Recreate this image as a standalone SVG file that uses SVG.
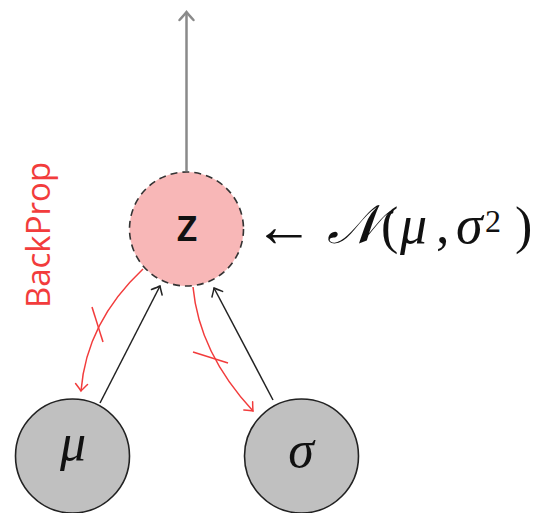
<svg xmlns="http://www.w3.org/2000/svg" width="536" height="513" viewBox="0 0 536 513">
<style>
.blk{fill:none;stroke:#222;stroke-width:1.5}
.red{fill:none;stroke:#f23c3c;stroke-width:1.5}
.gry{fill:none;stroke:#8a8a8a;stroke-width:2.5}
.node{fill:#c0c0c0;stroke:#222;stroke-width:1.6}
.math{font-family:"Liberation Serif","DejaVu Serif",serif;font-style:italic}
.rm{font-style:normal}
</style>
<defs>
<marker id="ab" markerUnits="userSpaceOnUse" markerWidth="16" markerHeight="16" refX="0" refY="0" viewBox="-10 -8 12 16" orient="auto"><path d="M-7,-6 Q-2,-1.5 0,0 Q-2,1.5 -7,6" fill="none" stroke="#222" stroke-width="1.5" stroke-linecap="round"/></marker>
<marker id="ar" markerUnits="userSpaceOnUse" markerWidth="16" markerHeight="16" refX="0" refY="0" viewBox="-10 -8 12 16" orient="auto"><path d="M-7,-6 Q-2,-1.5 0,0 Q-2,1.5 -7,6" fill="none" stroke="#f23c3c" stroke-width="1.5" stroke-linecap="round"/></marker>
<marker id="ag" markerUnits="userSpaceOnUse" markerWidth="20" markerHeight="20" refX="0" refY="0" viewBox="-12 -10 14 20" orient="auto"><path d="M-8,-7 Q-2,-1.5 0,0 Q-2,1.5 -8,7" fill="none" stroke="#8a8a8a" stroke-width="2.5" stroke-linecap="round"/></marker>
</defs>
<g id="connectors">
<path class="gry" d="M186.5,171 L186.5,12" marker-end="url(#ag)"/>
<path class="blk" d="M100,403 L160,286" marker-end="url(#ab)"/>
<path class="blk" d="M273,400 L214,288" marker-end="url(#ab)"/>
<path class="red" d="M143,269 C110,300 85,340 81,391" marker-end="url(#ar)"/>
<path class="red" d="M193,287 C197,330 215,370 253,411" marker-end="url(#ar)"/>
<path class="red" d="M92,307 L103,342"/>
<path class="red" d="M193,352 L228,363"/>
</g>
<g id="node-z">
<circle cx="186.5" cy="229" r="57" fill="#f8b7b7" stroke="#333" stroke-width="1.6" stroke-dasharray="7,5"/>
<text x="187" y="241" text-anchor="middle" font-family="'Open Sans',sans-serif" font-weight="600" font-size="45" fill="#111">z</text>
</g>
<g id="node-mu">
<circle class="node" cx="72.5" cy="456" r="57"/>
<text class="math" x="73" y="460" text-anchor="middle" font-size="52" fill="#111">μ</text>
</g>
<g id="node-sigma">
<circle class="node" cx="301.5" cy="456" r="57"/>
<text class="math" x="301" y="467" text-anchor="middle" font-size="52" fill="#111">σ</text>
</g>
<g id="label-normal">
<text x="254" y="246" font-family="'Liberation Serif',serif" font-size="60" fill="#111">←</text>
<text class="math" y="243" font-size="54" fill="#111"><tspan x="327">𝒩</tspan><tspan class="rm" x="381" font-size="52">(</tspan><tspan x="400">μ</tspan><tspan class="rm" x="436">,</tspan><tspan x="456">σ</tspan><tspan class="rm" x="485" y="232" font-size="32">2</tspan><tspan class="rm" x="515" y="243" font-size="52">)</tspan></text>
</g>
<text x="50" y="235" transform="rotate(-90 50 235)" text-anchor="middle" font-family="'Open Sans',sans-serif" font-size="33" fill="#f23c3c">BackProp</text>
</svg>
